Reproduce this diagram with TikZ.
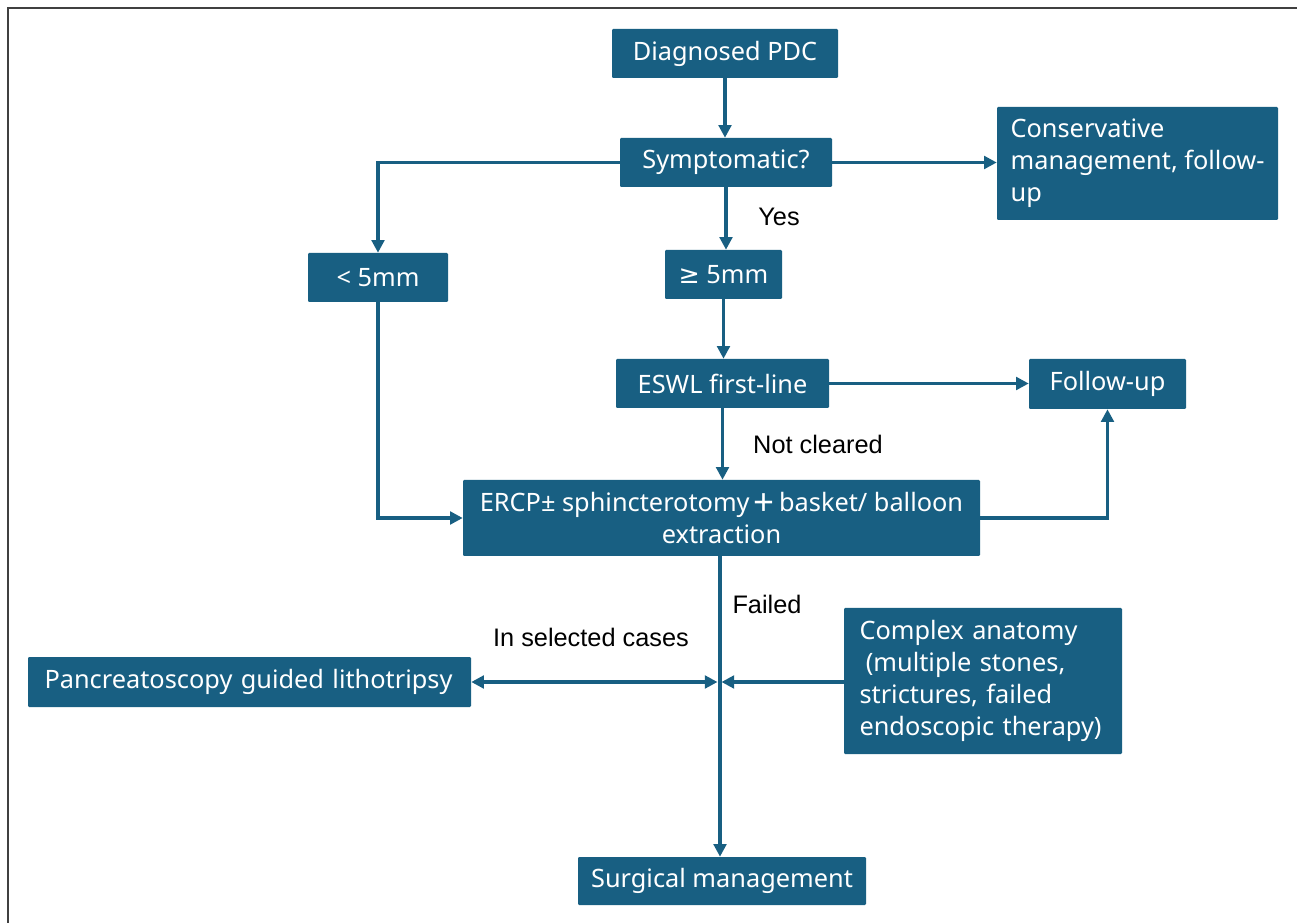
\documentclass[tikz,border=0pt]{standalone}
\usepackage{fontspec}
\usepackage{graphicx}
\setmainfont{Noto Sans}
\newfontfamily\labfont{Liberation Sans}
\newfontfamily\symfont{DejaVu Sans}
\usetikzlibrary{arrows.meta}
\definecolor{boxc}{HTML}{185F82}
\begin{document}
\begin{tikzpicture}[x=0.75pt,y=-0.75pt,
  box/.style={fill=boxc, text=white, font=\fontsize{19}{24}\selectfont, inner sep=0pt, rounded corners=0.8pt, align=center},
  conn/.style={draw=boxc, line width=2.3pt, -{Triangle[length=9.5pt,width=9.5pt]}},
  lab/.style={font=\labfont\fontsize{19}{23}\selectfont, text=black}]
\useasboundingbox (0,0) rectangle (1297,923);
\draw[line width=2.2pt, black!75] (8,923) -- (8,8) -- (1297,8);

\node[box, minimum width={226*0.75pt}, minimum height={49*0.75pt}] (dpc) at (725,53.5) {Diagnosed PDC};
\node[box, minimum width={212*0.75pt}, minimum height={49*0.75pt}] (sym) at (726,162.5) {Symptomatic?};
\node[box, align=left, minimum width={281*0.75pt}, minimum height={113*0.75pt}] (cons) at (1137.5,163.5) {Conservative\\management, follow-\\up};
\node[box, minimum width={140*0.75pt}, minimum height={49*0.75pt}] (lt5) at (378,277.5) {< 5mm};
\node[box, minimum width={117*0.75pt}, minimum height={49*0.75pt}] (ge5) at (723.5,274.5) {{\symfont ≥} 5mm};
\node[box, minimum width={213*0.75pt}, minimum height={49*0.75pt}] (eswl) at (722.5,383.5) {ESWL first-line};
\node[box, minimum width={157*0.75pt}, minimum height={50*0.75pt}] (fu) at (1107.5,384) {Follow-up};
\node[box, minimum width={517*0.75pt}, minimum height={76*0.75pt}] (ercp) at (721.5,518) {ERCP± sphincterotomy\,\raisebox{-0.17em}{\scalebox{1.45}{+}}\,basket/ balloon\\extraction};
\node[box, align=left, text width={410*0.75pt}, minimum width={443*0.75pt}, minimum height={50*0.75pt}] (panc) at (249.5,682) {Pancreatoscopy guided lithotripsy};
\node[box, align=left, text width={247*0.75pt}, minimum width={278*0.75pt}, minimum height={146*0.75pt}] (cx) at (983,681) {Complex anatomy\\\hspace{0.25em}(multiple stones,\\strictures, failed\\endoscopic therapy)};
\node[box, minimum width={288*0.75pt}, minimum height={48*0.75pt}] (surg) at (722,881) {Surgical management};

\coordinate (c) at (720,682);

\draw[conn] (dpc.south) -- (dpc.south |- sym.north);
\draw[conn] (sym.west) -| (lt5.north);
\draw[conn] (sym.south) -- (sym.south |- ge5.north);
\draw[conn] (sym.east) -- (sym.east -| cons.west);
\draw[conn] (ge5.south) -- (ge5.south |- eswl.north);
\draw[conn] (eswl.east) -- (eswl.east -| fu.west);
\draw[conn] (eswl.south) -- (eswl.south |- ercp.north);
\draw[conn] (lt5.south) |- (ercp.west);
\draw[conn] (ercp.east) -| (fu.south);
\draw[conn] (c |- ercp.south) -- (c |- surg.north);
\draw[conn, {Triangle[length=9.5pt,width=9.5pt]}-{Triangle[length=9.5pt,width=9.5pt]}] (panc.east) -- ([xshift=-2.5*0.75pt]c);
\draw[conn] (cx.west |- c) -- ([xshift=1.5*0.75pt]c);

\node[lab] (yes) at (779,217) {Yes};
\node[lab] (nc) at (818,444) {Not cleared};
\node[lab] (fail) at (767,604) {Failed};
\node[lab] (sel) at (591,637) {In selected cases};
\end{tikzpicture}
\end{document}
